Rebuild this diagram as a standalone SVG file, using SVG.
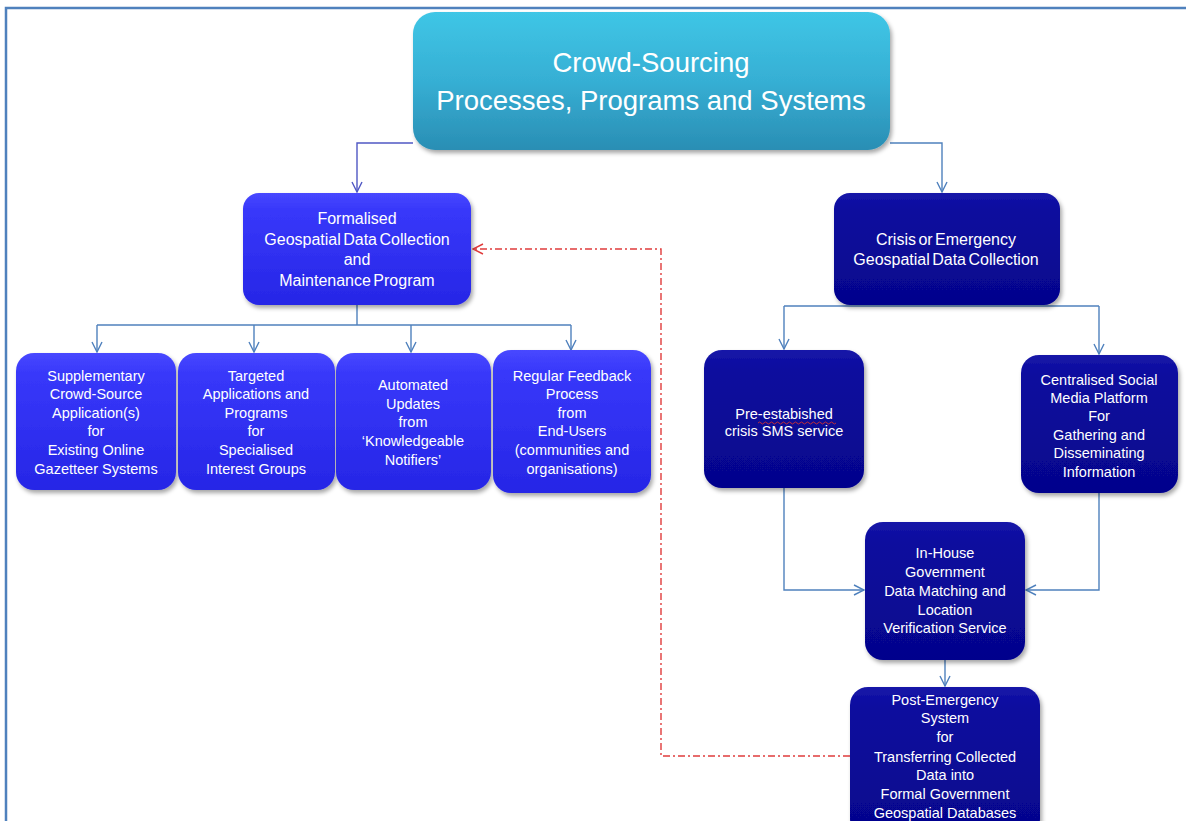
<svg xmlns="http://www.w3.org/2000/svg" width="1186" height="821" viewBox="0 0 1186 821">
<style>
.t{font-family:"Liberation Sans",Arial,sans-serif;fill:#ffffff;text-anchor:middle}
.s{font-size:14.5px}
.m{font-size:16px;word-spacing:-2px}
.title{font-size:27.5px}
.c{fill:none;stroke:#4F81BD;stroke-width:1.4}
.cp{fill:none;stroke:#5058C4;stroke-width:1.4}
.cr{fill:none;stroke:#E03C3C;stroke-width:1.4;stroke-dasharray:7 3 2 3}
</style>
<defs>
<linearGradient id="gTop" x1="0" y1="0" x2="0" y2="1">
<stop offset="0" stop-color="#3FC6E6"/><stop offset="0.5" stop-color="#36AFD4"/><stop offset="1" stop-color="#2A8EB4"/>
</linearGradient>
<linearGradient id="gBlue" x1="0" y1="0" x2="0" y2="1">
<stop offset="0" stop-color="#4848FF"/><stop offset="0.15" stop-color="#3838FA"/><stop offset="1" stop-color="#2626E6"/>
</linearGradient>
<linearGradient id="gNavy" x1="0" y1="0" x2="0" y2="1">
<stop offset="0" stop-color="#1515A8"/><stop offset="0.15" stop-color="#0C0C9E"/><stop offset="1" stop-color="#05058C"/>
</linearGradient>
<filter id="sh" x="-10%" y="-10%" width="125%" height="130%">
<feDropShadow dx="2" dy="3" stdDeviation="2" flood-color="#000" flood-opacity="0.35"/>
</filter>
<marker id="ab" viewBox="0 0 12 12" refX="11" refY="6" markerWidth="12" markerHeight="12" markerUnits="userSpaceOnUse" orient="auto">
<path d="M1,1 L11,6 L1,11" fill="none" stroke="#4F81BD" stroke-width="1.4"/>
</marker>
<marker id="ap" viewBox="0 0 12 12" refX="11" refY="6" markerWidth="12" markerHeight="12" markerUnits="userSpaceOnUse" orient="auto">
<path d="M1,1 L11,6 L1,11" fill="none" stroke="#5058C4" stroke-width="1.4"/>
</marker>
<marker id="ar" viewBox="0 0 12 12" refX="11" refY="6" markerWidth="12" markerHeight="12" markerUnits="userSpaceOnUse" orient="auto">
<path d="M1,1 L11,6 L1,11" fill="none" stroke="#E03C3C" stroke-width="1.4"/>
</marker>
</defs>
<rect width="1186" height="821" fill="#ffffff"/>
<path d="M6,821 L6,8 L1186,8" fill="none" stroke="#4F81BD" stroke-width="2.5"/>

<g id="connectors">
<path class="cp" d="M413,143 L357,143 L357,192" marker-end="url(#ap)"/>
<path class="c" d="M890,143 L942,143 L942,192" marker-end="url(#ab)"/>
<path class="c" d="M357,305 L357,325"/>
<path class="c" d="M97,325 L571,325"/>
<path class="c" d="M97,325 L97,352" marker-end="url(#ab)"/>
<path class="c" d="M254,325 L254,352" marker-end="url(#ab)"/>
<path class="c" d="M411,325 L411,352" marker-end="url(#ab)"/>
<path class="c" d="M571,325 L571,350" marker-end="url(#ab)"/>
<path class="c" d="M784,306 L1099,306"/>
<path class="c" d="M784,306 L784,349" marker-end="url(#ab)"/>
<path class="c" d="M1099,306 L1099,354" marker-end="url(#ab)"/>
<path class="c" d="M784,488 L784,590 L864,590" marker-end="url(#ab)"/>
<path class="c" d="M1099,493 L1099,590 L1026,590" marker-end="url(#ab)"/>
<path class="c" d="M945,660 L945,686" marker-end="url(#ab)"/>
<path class="cr" d="M850,756 L661,756 L661,249 L473,249" marker-end="url(#ar)"/>
</g>

<g id="n-top">
<rect x="413" y="12" width="477" height="138" rx="22" fill="url(#gTop)" filter="url(#sh)"/>
<text class="t title" x="651" y="72">Crowd-Sourcing</text>
<text class="t title" x="651" y="110">Processes, Programs and Systems</text>
</g>

<g id="n-formal">
<rect x="243" y="193" width="228" height="112" rx="16" fill="url(#gBlue)" filter="url(#sh)"/>
<text class="t m" x="357" y="224">Formalised</text>
<text class="t m" x="357" y="245">Geospatial Data Collection</text>
<text class="t m" x="357" y="265">and</text>
<text class="t m" x="357" y="286">Maintenance Program</text>
</g>

<g id="n-crisis">
<rect x="834" y="193" width="226" height="112" rx="16" fill="url(#gNavy)" filter="url(#sh)"/>
<text class="t m" x="946" y="245">Crisis or Emergency</text>
<text class="t m" x="946" y="265">Geospatial Data Collection</text>
</g>

<g id="n-supp">
<rect x="16" y="353" width="160" height="137" rx="18" fill="url(#gBlue)" filter="url(#sh)"/>
<text class="t s" x="96" y="381">Supplementary</text>
<text class="t s" x="96" y="399">Crowd-Source</text>
<text class="t s" x="96" y="418">Application(s)</text>
<text class="t s" x="96" y="436">for</text>
<text class="t s" x="96" y="455">Existing Online</text>
<text class="t s" x="96" y="474">Gazetteer Systems</text>
</g>

<g id="n-targeted">
<rect x="178" y="353" width="157" height="137" rx="18" fill="url(#gBlue)" filter="url(#sh)"/>
<text class="t s" x="256" y="381">Targeted</text>
<text class="t s" x="256" y="399">Applications and</text>
<text class="t s" x="256" y="418">Programs</text>
<text class="t s" x="256" y="436">for</text>
<text class="t s" x="256" y="455">Specialised</text>
<text class="t s" x="256" y="474">Interest Groups</text>
</g>

<g id="n-automated">
<rect x="336" y="353" width="155" height="137" rx="18" fill="url(#gBlue)" filter="url(#sh)"/>
<text class="t s" x="413" y="390">Automated</text>
<text class="t s" x="413" y="409">Updates</text>
<text class="t s" x="413" y="427">from</text>
<text class="t s" x="413" y="446">‘Knowledgeable</text>
<text class="t s" x="413" y="465">Notifiers’</text>
</g>

<g id="n-feedback">
<rect x="493" y="350" width="158" height="143" rx="18" fill="url(#gBlue)" filter="url(#sh)"/>
<text class="t s" x="572" y="381">Regular Feedback</text>
<text class="t s" x="572" y="399">Process</text>
<text class="t s" x="572" y="418">from</text>
<text class="t s" x="572" y="436">End-Users</text>
<text class="t s" x="572" y="455">(communities and</text>
<text class="t s" x="572" y="474">organisations)</text>
</g>

<g id="n-sms">
<rect x="704" y="350" width="160" height="138" rx="18" fill="url(#gNavy)" filter="url(#sh)"/>
<text class="t s" x="784" y="419">Pre-estabished</text>
<text class="t s" x="784" y="436">crisis SMS service</text>
<path d="M758,423 q1.5,-2 3,0 t3,0 t3,0 t3,0 t3,0 t3,0 t3,0 t3,0 t3,0 t3,0 t3,0 t3,0 t3,0 t3,0 t3,0 t3,0 t3,0 t3,0 t3,0 t3,0 t3,0 t3,0 t3,0 t3,0 t3,0 t3,0" fill="none" stroke="#D03030" stroke-width="0.9"/>
</g>

<g id="n-social">
<rect x="1021" y="355" width="157" height="138" rx="18" fill="url(#gNavy)" filter="url(#sh)"/>
<text class="t s" x="1099" y="385">Centralised Social</text>
<text class="t s" x="1099" y="403">Media Platform</text>
<text class="t s" x="1099" y="421">For</text>
<text class="t s" x="1099" y="440">Gathering and</text>
<text class="t s" x="1099" y="458">Disseminating</text>
<text class="t s" x="1099" y="477">Information</text>
</g>

<g id="n-inhouse">
<rect x="865" y="522" width="160" height="138" rx="18" fill="url(#gNavy)" filter="url(#sh)"/>
<text class="t s" x="945" y="558">In-House</text>
<text class="t s" x="945" y="577">Government</text>
<text class="t s" x="945" y="596">Data Matching and</text>
<text class="t s" x="945" y="615">Location</text>
<text class="t s" x="945" y="633">Verification Service</text>
</g>

<g id="n-post">
<rect x="850" y="687" width="190" height="150" rx="18" fill="url(#gNavy)" filter="url(#sh)"/>
<text class="t s" x="945" y="705">Post-Emergency</text>
<text class="t s" x="945" y="723">System</text>
<text class="t s" x="945" y="742">for</text>
<text class="t s" x="945" y="762">Transferring Collected</text>
<text class="t s" x="945" y="780">Data into</text>
<text class="t s" x="945" y="799">Formal Government</text>
<text class="t s" x="945" y="818">Geospatial Databases</text>
</g>
</svg>
